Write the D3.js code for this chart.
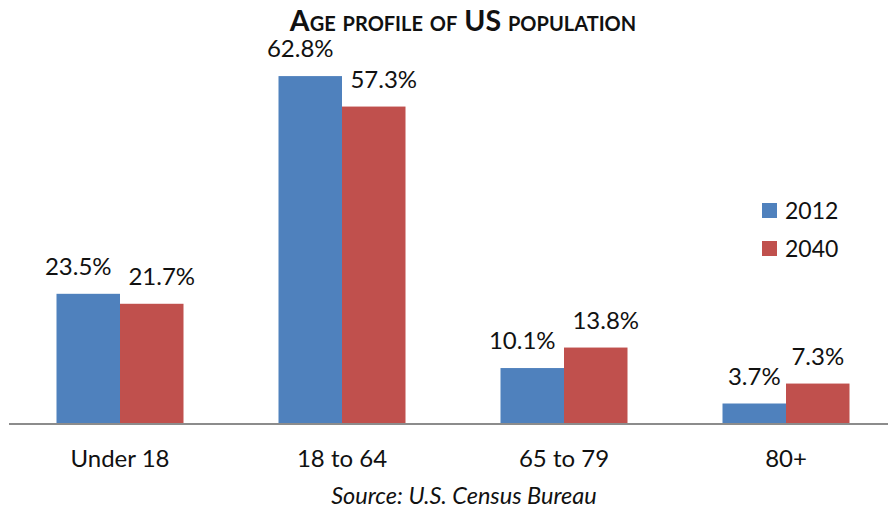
<!DOCTYPE html>
<html><head><meta charset="utf-8">
<script src="https://cdn.jsdelivr.net/npm/d3@7"></script>
<style>body{margin:0;background:#fff}svg{display:block}</style>
</head><body>
<svg id="c" width="888" height="510"></svg>
<script>
const categories = ["Under 18", "18 to 64", "65 to 79", "80+"];
const seriesNames = ["2012", "2040"];
const values2012 = [23.5, 62.8, 10.1, 3.7];
const values2040 = [21.7, 57.3, 13.8, 7.3];
const colors = ["#4F81BD", "#C0504D"];
const title = "Age profile of US population";
const source = "Source: U.S. Census Bureau";

const svg = d3.select("#c");
const font = "Lato, 'Open Sans', sans-serif";
const base = 424;
const x0 = d3.scaleBand().domain(categories).range([9, 897]).padding(0);
const groupW = 127;
const x1 = d3.scaleBand().domain(seriesNames).range([0, groupW]).padding(0);
const y = d3.scaleLinear().domain([0, 70]).range([base, 36.2]);

const data = categories.map((c, i) => ({c, vals: [values2012[i], values2040[i]]}));

const g = svg.append("g");
const groups = g.selectAll("g.grp").data(data).join("g")
  .attr("transform", d => `translate(${x0(d.c) + (x0.bandwidth() - groupW) / 2},0)`);
groups.selectAll("rect").data(d => d.vals.map((v, j) => ({v, s: seriesNames[j], j})))
  .join("rect")
  .attr("x", d => x1(d.s)).attr("width", x1.bandwidth())
  .attr("y", d => y(d.v)).attr("height", d => base - y(d.v))
  .attr("fill", d => colors[d.j]);
groups.selectAll("text").data(d => d.vals.map((v, j) => ({v, s: seriesNames[j], j})))
  .join("text")
  .attr("x", d => x1(d.s) + x1.bandwidth() / 2)
  .attr("y", d => y(d.v) - 19)
  .attr("text-anchor", "middle")
  .attr("font-family", font).attr("font-size", 24).attr("fill", "#111")
  .text(d => d.v.toFixed(1) + "%")
  .each(function(d) {
    // push labels apart when wider than their bar
    const w = this.getComputedTextLength();
    if (w > x1.bandwidth() - 4) {
      d3.select(this).attr("dx", d.j === 0 ? -10 : 10);
    }
  });

// axis
const axis = d3.axisBottom(x0).tickSize(0).tickPadding(26);
const ag = svg.append("g").attr("transform", `translate(0,${base})`).call(axis);
ag.select(".domain").attr("stroke", "#8c8c8c").attr("stroke-width", 2).attr("d", "M9,0H888");
ag.selectAll("text").attr("font-family", font).attr("font-size", 24).attr("fill", "#111");

// title
svg.append("text").attr("x", 463).attr("y", 31).attr("text-anchor", "middle")
  .attr("font-family", font).attr("font-weight", "bold").attr("font-size", 28.5)
  .style("font-variant", "small-caps").attr("fill", "#111").text(title);

// source
svg.append("text").attr("x", 464).attr("y", 504).attr("text-anchor", "middle")
  .attr("font-family", font).attr("font-style", "italic").attr("font-size", 23.5)
  .attr("fill", "#111").text(source);

// legend
const lg = svg.append("g").attr("transform", "translate(762,203)");
seriesNames.forEach((s, i) => {
  lg.append("rect").attr("x", 0).attr("y", i * 38).attr("width", 15).attr("height", 15).attr("fill", colors[i]);
  lg.append("text").attr("x", 23).attr("y", i * 38 + 16).attr("font-family", font)
    .attr("font-size", 23).attr("fill", "#111").text(s);
});
</script>
</body></html>
